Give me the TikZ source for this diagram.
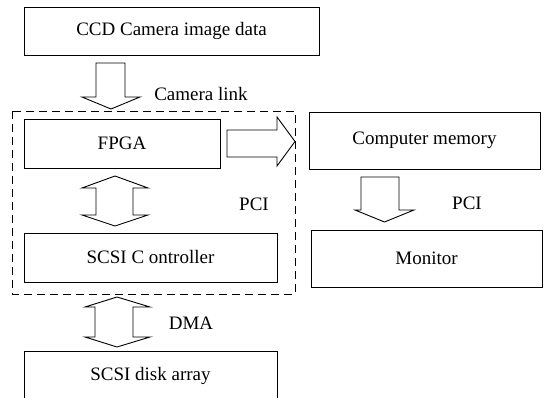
\documentclass[tikz,border=0pt]{standalone}
\usepackage{fontspec}
\setmainfont{Liberation Serif}
\begin{document}
\begin{tikzpicture}[x=1pt,y=1pt,line width=0.9pt,
	box/.style={draw,inner sep=0pt,font=\fontsize{19}{21}\selectfont},
	lbl/.style={inner sep=0pt,font=\fontsize{19}{21}\selectfont}]
		\useasboundingbox (0,0) rectangle (549,-398);
		\clip (0,0) rectangle (549,-398);
		% boxes
		\node[box,minimum width=295,minimum height=48] (ccd) at (171.5,-31) {CCD Camera image data};
		\node[box,minimum width=196,minimum height=49] (fpga) at (122,-143.5) {FPGA};
		\node[box,minimum width=253,minimum height=49] (scsi) at (150.5,-257.5) {SCSI C ontroller};
		\node[box,minimum width=253,minimum height=50] (disk) at (150.5,-376) {SCSI disk array};
		\node[box,minimum width=231,minimum height=57] (mem) at (424.5,-140.5) {Computer memory};
		\node[box,minimum width=231,minimum height=57] (mon) at (426.5,-258.5) {Monitor};
		\draw[dash pattern=on 8pt off 5pt] (12,-111) rectangle (295,-294);
		% block arrows
		\draw (96,-63) -- (125,-63) -- (125,-97) -- (140,-97) -- (111,-109) -- (82,-97) -- (96,-97) -- cycle;
		\draw (227,-130) -- (277,-130) -- (277,-117) -- (295,-141.5) -- (277,-166) -- (277,-157) -- (227,-157) -- cycle;
		\draw (361,-177) -- (399,-177) -- (399,-210) -- (414,-210) -- (384.5,-222) -- (355,-210) -- (361,-210) -- cycle;
		\draw (115,-176) -- (148,-188) -- (133,-188) -- (133,-215) -- (148,-215) -- (115,-226) -- (82,-215) -- (96,-215) -- (96,-188) -- (82,-188) -- cycle;
		\draw (117,-297) -- (150,-307) -- (133,-307) -- (133,-337) -- (150,-337) -- (117,-347) -- (85,-337) -- (95,-337) -- (95,-307) -- (85,-307) -- cycle;
		% labels
		\node[lbl] (camlink) at (201,-94) {Camera link};
		\node[lbl] (pcil) at (254,-204) {PCI};
		\node[lbl] (pcir) at (467,-203) {PCI};
		\node[lbl] (dma) at (191,-323) {DMA};
\end{tikzpicture}
\end{document}
